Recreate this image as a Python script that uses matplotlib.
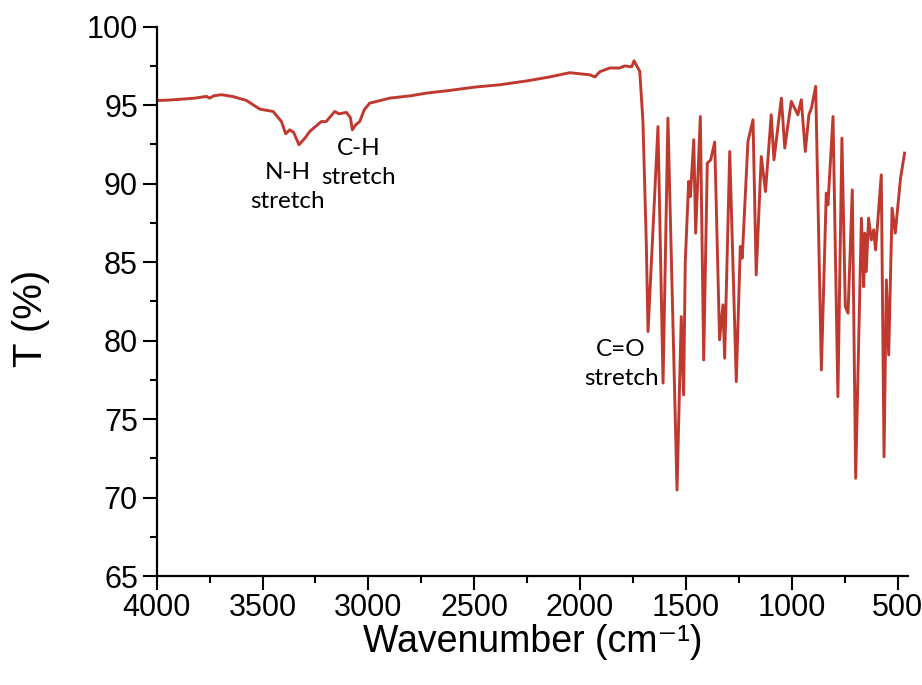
import matplotlib
matplotlib.use("Agg")
import matplotlib.pyplot as plt
from matplotlib.ticker import MultipleLocator

# FTIR spectrum (wavenumber in cm-1, transmittance in %)
wavenumber = [4000, 3950, 3876, 3820, 3765, 3750, 3730, 3694, 3640, 3576,
              3513, 3450, 3411, 3391, 3372, 3353, 3328, 3300, 3277, 3222,
              3200, 3159, 3139, 3104, 3085, 3076, 3060, 3041, 3020, 2994,
              2899, 2800, 2726, 2616, 2500, 2380, 2250, 2144, 2049, 2000,
              1955, 1930, 1907, 1860, 1813, 1789, 1756, 1745, 1718, 1703,
              1687, 1679, 1632, 1608, 1585, 1542, 1522, 1511, 1503, 1487,
              1479, 1463, 1454, 1432, 1416, 1399, 1383, 1364, 1341, 1325,
              1317, 1293, 1262, 1243, 1234, 1207, 1183, 1168, 1144, 1124,
              1097, 1084, 1049, 1033, 1018, 1002, 971, 955, 936, 919,
              907, 887, 860, 837, 829, 805, 782, 763, 747, 734,
              714, 698, 671, 660, 655, 648, 637, 624, 613, 604,
              577, 564, 553, 542, 526, 511, 486, 467]
transmittance = [95.30, 95.32, 95.39, 95.45, 95.56, 95.45, 95.60, 95.67, 95.55, 95.30,
                 94.75, 94.60, 93.96, 93.18, 93.43, 93.26, 92.48, 92.90, 93.33, 93.96,
                 93.95, 94.60, 94.45, 94.54, 94.20, 93.43, 93.75, 93.96, 94.70, 95.13,
                 95.45, 95.60, 95.77, 95.94, 96.15, 96.30, 96.55, 96.80, 97.07, 97.00,
                 96.94, 96.80, 97.13, 97.37, 97.37, 97.50, 97.45, 97.83, 97.15, 93.96,
                 86.10, 80.58, 93.64, 77.30, 94.18, 70.48, 81.53, 76.54, 85.04, 90.14,
                 89.18, 92.80, 86.85, 94.28, 78.77, 91.31, 91.52, 92.65, 80.05, 82.28,
                 78.88, 92.05, 77.39, 86.00, 85.25, 92.69, 94.07, 84.19, 91.73, 89.50,
                 94.39, 91.52, 95.45, 92.27, 93.75, 95.24, 94.39, 95.35, 92.05, 94.39,
                 94.82, 96.20, 78.13, 89.40, 88.65, 94.28, 76.43, 92.90, 82.17, 81.75,
                 89.60, 71.23, 87.80, 83.44, 86.85, 84.40, 87.80, 86.42, 87.06, 85.78,
                 90.56, 72.60, 83.87, 79.09, 88.44, 86.85, 90.35, 91.95]

band_labels = ["N-H\nstretch", "C-H\nstretch", "C=O\nstretch"]
band_pos = [(3381, 89.8), (3048, 91.3), (1806, 78.5)]

plt.rcParams['font.family'] = ['Liberation Sans', 'DejaVu Sans']

fig = plt.figure(figsize=(9.22, 6.85), dpi=100)
ax = fig.add_axes([0.170, 0.159, 0.815, 0.802])

ax.plot(wavenumber, transmittance, color='#c0392f', lw=2.1)

for txt, (x, y) in zip(band_labels, band_pos):
    ax.text(x, y, txt, ha='center', va='center', fontsize=17.5,
            family=['Lato', 'DejaVu Sans'], linespacing=1.45)

ax.set_xlim(4000, 450)
ax.set_ylim(65, 100)
ax.xaxis.set_major_locator(MultipleLocator(500))
ax.xaxis.set_minor_locator(MultipleLocator(250))
ax.yaxis.set_major_locator(MultipleLocator(5))
ax.yaxis.set_minor_locator(MultipleLocator(2.5))

for s in ['top', 'right']:
    ax.spines[s].set_visible(False)
for s in ['left', 'bottom']:
    ax.spines[s].set_linewidth(1.6)

ax.tick_params(which='major', direction='out', length=10, width=1.5, labelsize=22)
ax.tick_params(axis='x', which='major', pad=2)
ax.tick_params(which='minor', direction='out', length=5, width=1.5)

ax.set_xlabel('Wavenumber (cm\u207b\u00b9)', fontsize=27)
ax.set_ylabel('T (%)', fontsize=29)
ax.xaxis.set_label_coords(0.5, -0.088)
ax.yaxis.set_label_coords(-0.142, 0.47)

fig.savefig('out.png', dpi=100)
